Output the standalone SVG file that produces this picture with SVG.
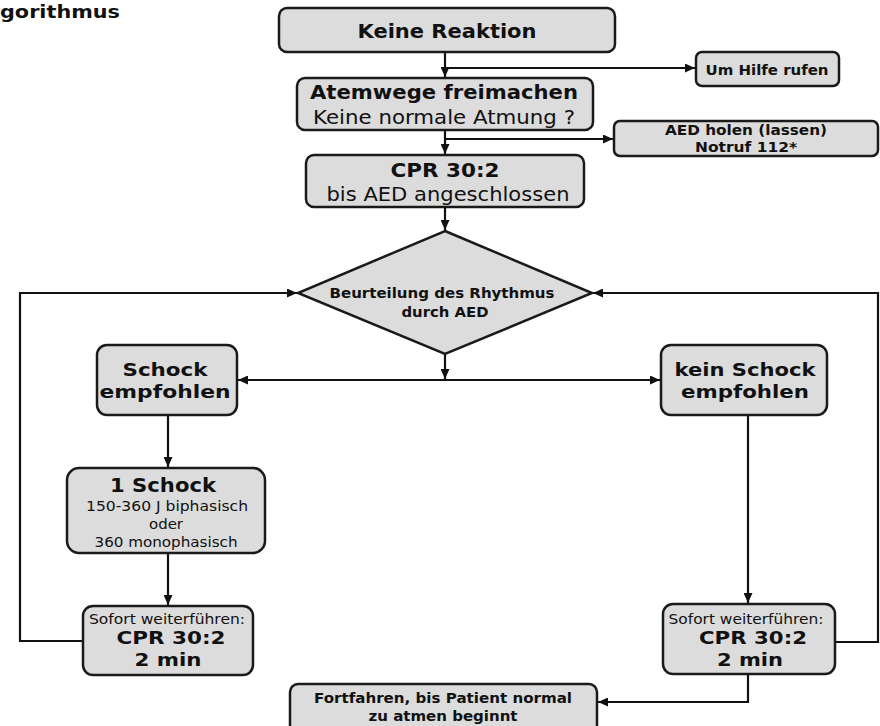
<svg xmlns="http://www.w3.org/2000/svg" width="880" height="726" viewBox="0 0 880 726">
<defs>
<marker id="ah" markerUnits="userSpaceOnUse" markerWidth="10" markerHeight="9" refX="10" refY="4.5" orient="auto">
<path d="M0,0 L10,4.5 L0,9 z" fill="#111"/>
</marker>
<style>
.box{fill:#dcdcdc;stroke:#1a1a1a;stroke-width:2.5}
.c{fill:none;stroke:#111;stroke-width:2.2;marker-end:url(#ah)}
text{font-family:"DejaVu Sans",Verdana,sans-serif;fill:#111;text-anchor:middle}
.b{font-weight:bold}
</style>
</defs>
<rect width="880" height="726" fill="#fff"/>
<text x="0" y="18" class="b" font-size="18" style="text-anchor:start" textLength="120" lengthAdjust="spacingAndGlyphs">gorithmus</text>

<g id="connectors">
<path class="c" d="M445,52 V77"/>
<path class="c" d="M445,68 H695"/>
<path class="c" d="M445,130 V154"/>
<path class="c" d="M445,139 H613"/>
<path class="c" d="M445,207 V230"/>
<path class="c" d="M445,354 V379"/>
<path class="c" d="M445,380 H238"/>
<path class="c" d="M445,380 H660"/>
<path class="c" d="M168,415 V467"/>
<path class="c" d="M168,553 V605"/>
<path class="c" d="M83,641 H20 V293 H297"/>
<path class="c" d="M748,415 V603"/>
<path class="c" d="M835,642 H878 V293 H593"/>
<path class="c" d="M748,674 V702 H598"/>
</g>

<g id="keine-reaktion">
<rect class="box" x="279" y="8" width="336" height="44" rx="8"/>
<text x="447" y="38" class="b" font-size="19" textLength="179" lengthAdjust="spacingAndGlyphs">Keine Reaktion</text>
</g>
<g id="um-hilfe">
<rect class="box" x="696" y="52" width="143" height="34" rx="6"/>
<text x="767" y="75" class="b" font-size="14" textLength="123" lengthAdjust="spacingAndGlyphs">Um Hilfe rufen</text>
</g>
<g id="atemwege">
<rect class="box" x="297" y="78" width="296" height="52" rx="8"/>
<text x="444" y="99" class="b" font-size="19" textLength="268" lengthAdjust="spacingAndGlyphs">Atemwege freimachen</text>
<text x="444" y="124" font-size="19" textLength="262" lengthAdjust="spacingAndGlyphs">Keine normale Atmung ?</text>
</g>
<g id="aed-holen">
<rect class="box" x="614" y="121" width="264" height="35" rx="6"/>
<text x="746" y="135" class="b" font-size="14" textLength="162" lengthAdjust="spacingAndGlyphs">AED holen (lassen)</text>
<text x="746" y="152" class="b" font-size="14" textLength="102" lengthAdjust="spacingAndGlyphs">Notruf 112*</text>
</g>
<g id="cpr">
<rect class="box" x="306" y="155" width="278" height="52" rx="8"/>
<text x="445" y="177" class="b" font-size="19" textLength="109" lengthAdjust="spacingAndGlyphs">CPR 30:2</text>
<text x="448" y="201" font-size="19" textLength="243" lengthAdjust="spacingAndGlyphs">bis AED angeschlossen</text>
</g>
<g id="beurteilung">
<path class="box" d="M445,231 L592,293 L445,354 L298,293 z"/>
<text x="442" y="298" class="b" font-size="14" textLength="225" lengthAdjust="spacingAndGlyphs">Beurteilung des Rhythmus</text>
<text x="445" y="317" class="b" font-size="14" textLength="87" lengthAdjust="spacingAndGlyphs">durch AED</text>
</g>
<g id="schock-empfohlen">
<rect class="box" x="97" y="345" width="140" height="70" rx="10"/>
<text x="165" y="376" class="b" font-size="18" textLength="85" lengthAdjust="spacingAndGlyphs">Schock</text>
<text x="165" y="397.5" class="b" font-size="18" textLength="131" lengthAdjust="spacingAndGlyphs">empfohlen</text>
</g>
<g id="kein-schock">
<rect class="box" x="661" y="345" width="166" height="70" rx="10"/>
<text x="745" y="376" class="b" font-size="18" textLength="141" lengthAdjust="spacingAndGlyphs">kein Schock</text>
<text x="745" y="397.5" class="b" font-size="18" textLength="128" lengthAdjust="spacingAndGlyphs">empfohlen</text>
</g>
<g id="ein-schock">
<rect class="box" x="67" y="468" width="198" height="85" rx="12"/>
<text x="163" y="492" class="b" font-size="20" textLength="106" lengthAdjust="spacingAndGlyphs">1 Schock</text>
<text x="167" y="511" font-size="14" textLength="162" lengthAdjust="spacingAndGlyphs">150-360 J biphasisch</text>
<text x="166" y="529" font-size="14" textLength="34" lengthAdjust="spacingAndGlyphs">oder</text>
<text x="166" y="547" font-size="14" textLength="143" lengthAdjust="spacingAndGlyphs">360 monophasisch</text>
</g>
<g id="sofort-links">
<rect class="box" x="83" y="606" width="170" height="69" rx="10"/>
<text x="167" y="624" font-size="14" textLength="156" lengthAdjust="spacingAndGlyphs">Sofort weiterführen:</text>
<text x="171" y="644" class="b" font-size="18" textLength="109" lengthAdjust="spacingAndGlyphs">CPR 30:2</text>
<text x="168" y="665.5" class="b" font-size="18" textLength="67" lengthAdjust="spacingAndGlyphs">2 min</text>
</g>
<g id="sofort-rechts">
<rect class="box" x="663" y="604" width="172" height="70" rx="10"/>
<text x="746" y="624" font-size="14" textLength="155" lengthAdjust="spacingAndGlyphs">Sofort weiterführen:</text>
<text x="753" y="644" class="b" font-size="18" textLength="108" lengthAdjust="spacingAndGlyphs">CPR 30:2</text>
<text x="750" y="665.5" class="b" font-size="18" textLength="66" lengthAdjust="spacingAndGlyphs">2 min</text>
</g>
<g id="fortfahren">
<rect class="box" x="290" y="684" width="307" height="50" rx="8"/>
<text x="443" y="703" class="b" font-size="14" textLength="258" lengthAdjust="spacingAndGlyphs">Fortfahren, bis Patient normal</text>
<text x="443" y="721" class="b" font-size="14" textLength="149" lengthAdjust="spacingAndGlyphs">zu atmen beginnt</text>
</g>
</svg>
